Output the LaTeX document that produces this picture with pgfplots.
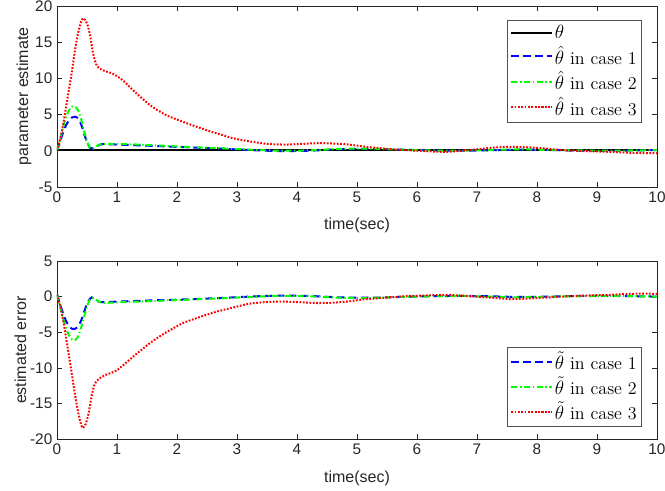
\documentclass[border=0pt]{standalone}
\usepackage{pgfplots}
\pgfplotsset{compat=1.18}
\usepackage{fontspec}
\newfontfamily\arial{Liberation Sans}
\definecolor{axgray}{RGB}{38,38,38}
\begin{document}
\begin{tikzpicture}
\path[use as bounding box] (-42.75pt,-38.6pt) rectangle (456pt,329.6pt);
\pgfplotsset{
  mat/.style={
    scale only axis, width=450pt,
    xmin=0, xmax=10, xtick={0,1,...,10},
    axis line style={axgray, line width=0.5pt},
    tick style={axgray, line width=0.5pt},
    major tick length=4pt,
    tick align=inside,
    ticklabel style={font=\arial\fontsize{11.5}{13}\selectfont, text=axgray},
    /pgf/number format/assume math mode=true,
    label style={font=\arial\fontsize{12}{14}\selectfont, text=axgray},
    xlabel={time(sec)},
    xlabel style={yshift=-5pt},
    ylabel style={yshift=-4pt},
    legend style={draw=axgray!80, line width=0.5pt, font=\fontsize{13.5}{15}\selectfont,
      legend cell align=left, row sep=1.5pt, inner xsep=2.5pt, inner ysep=2.5pt,
      nodes={inner sep=1.2pt}},
    legend image post style={line width=1.5pt},
    legend image code/.code={\draw plot coordinates {(0cm,0cm) (1.08cm,0cm)};},
    every axis plot/.append style={line width=1.5pt, smooth, tension=0.4},
  },
  c1/.style={blue, dash pattern=on 5.5pt off 3.5pt},
  c2/.style={green, dash pattern=on 4.5pt off 2pt on 1pt off 2pt},
  c3/.style={red, dash pattern=on 1.3pt off 1.2pt},
}
% ---------------- top axis ----------------
\begin{axis}[mat, at={(0pt,189.4pt)}, anchor=south west, height=135.75pt,
  ymin=-5, ymax=20, ytick={-5,0,5,10,15,20},
  ylabel={parameter estimate},
  legend style={at={(rel axis cs:1,1)}, anchor=north east, xshift=-11.25pt, yshift=-10.5pt}]
\addplot[black] coordinates {(0,0.1) (10,0.1)};
\addlegendentry{$\theta$}
\addplot[c1] coordinates {(0,0) (0.05,1.2) (0.1,2.5) (0.15,3.5) (0.2,4.2) (0.25,4.6) (0.3,4.7) (0.35,4.5) (0.4,3.7) (0.45,2.4) (0.5,1.2) (0.55,0.4) (0.6,0.3) (0.68,0.7) (0.75,0.9) (0.85,0.9) (1.0,0.85) (1.5,0.7) (2.1,0.5) (2.7,0.3) (3.2,0.1) (3.7,-0.05) (4.2,0.0) (4.7,0.2) (5.2,0.25) (5.7,0.15) (6.2,0.05) (6.7,0) (7.2,0.05) (7.7,0.15) (8.2,0.1) (8.7,0) (9.2,0) (9.7,0.05) (10,0.1)};
\addlegendentry{$\hat\theta$ in case 1}
\addplot[c2] coordinates {(0,0) (0.05,1.5) (0.1,3.2) (0.15,4.6) (0.2,5.6) (0.25,6.1) (0.3,6.1) (0.35,5.6) (0.4,4.4) (0.45,2.8) (0.5,1.3) (0.55,0.4) (0.6,0.3) (0.68,0.75) (0.75,0.95) (0.9,0.95) (1.0,0.95) (1.5,0.8) (2.1,0.55) (2.7,0.35) (3.2,0.15) (3.7,0) (4.2,0.05) (4.7,0.25) (5.2,0.3) (5.7,0.15) (6.2,0.05) (6.7,0) (7.2,0.1) (7.7,0.2) (8.2,0.1) (8.7,0.05) (9.2,0) (9.7,0.05) (10,0.1)};
\addlegendentry{$\hat\theta$ in case 2}
\addplot[c3] coordinates {(0,0) (0.05,1.5) (0.1,3.5) (0.15,6) (0.2,8.5) (0.25,11) (0.3,13.9) (0.35,16.2) (0.4,17.8) (0.44,18.3) (0.5,17.6) (0.55,16.0) (0.6,13.5) (0.65,12.0) (0.7,11.4) (0.8,11.0) (0.94,10.6) (1.1,9.7) (1.3,8.1) (1.55,6.3) (1.8,5.0) (2.0,4.3) (2.4,3.1) (2.9,1.8) (3.2,1.3) (3.5,0.95) (3.8,0.85) (4.1,0.95) (4.4,1.05) (4.8,0.9) (5.2,0.5) (5.6,0.2) (6.0,0.0) (6.5,-0.15) (7.0,0.2) (7.3,0.45) (7.6,0.55) (8.0,0.4) (8.4,0.1) (8.8,-0.05) (9.2,-0.15) (9.6,-0.3) (10,-0.35)};
\addlegendentry{$\hat\theta$ in case 3}
\end{axis}
% ---------------- bottom axis ----------------
\begin{axis}[mat, at={(0pt,0pt)}, anchor=south west, height=133.9pt,
  ymin=-20, ymax=5, ytick={-20,-15,-10,-5,0,5},
  ylabel={estimated error},
  legend style={at={(rel axis cs:1,0)}, anchor=south east, xshift=-11.25pt, yshift=9.4pt}]
\addplot[c1] coordinates {(0,0.3) (0.05,-1) (0.1,-2.3) (0.15,-3.4) (0.2,-4.1) (0.25,-4.5) (0.3,-4.5) (0.35,-4.2) (0.4,-3.4) (0.45,-2.2) (0.5,-1.0) (0.55,-0.3) (0.58,-0.1) (0.65,-0.5) (0.72,-0.75) (0.85,-0.75) (1.0,-0.7) (1.5,-0.55) (2.1,-0.4) (2.7,-0.2) (3.2,0) (3.7,0.15) (4.2,0.1) (4.7,-0.1) (5.2,-0.15) (5.7,-0.05) (6.2,0.05) (6.7,0.1) (7.2,0.05) (7.7,-0.05) (8.2,0) (8.7,0.1) (9.2,0.1) (9.7,0.05) (10,0)};
\addlegendentry{$\tilde\theta$ in case 1}
\addplot[c2] coordinates {(0,0.3) (0.05,-1.3) (0.1,-3) (0.15,-4.4) (0.2,-5.4) (0.25,-6.0) (0.3,-6.1) (0.35,-5.6) (0.4,-4.4) (0.45,-2.9) (0.5,-1.4) (0.55,-0.4) (0.6,-0.2) (0.68,-0.6) (0.75,-0.85) (0.9,-0.85) (1.0,-0.8) (1.5,-0.65) (2.1,-0.45) (2.7,-0.25) (3.2,-0.05) (3.7,0.1) (4.2,0.05) (4.7,-0.15) (5.2,-0.2) (5.7,-0.05) (6.2,0.05) (6.7,0.1) (7.2,0) (7.7,-0.1) (8.2,0) (8.7,0.05) (9.2,0.1) (9.7,0.05) (10,0)};
\addlegendentry{$\tilde\theta$ in case 2}
\addplot[c3] coordinates {(0,0.3) (0.05,-1.2) (0.1,-3.2) (0.15,-5.7) (0.2,-8.3) (0.25,-11) (0.3,-13.7) (0.35,-16.1) (0.4,-17.9) (0.43,-18.4) (0.48,-17.8) (0.53,-16.2) (0.58,-13.8) (0.63,-12.2) (0.7,-11.5) (0.8,-11.0) (1.0,-10.3) (1.27,-8.4) (1.55,-6.5) (1.8,-5.1) (2.1,-3.7) (2.4,-2.8) (2.66,-2.1) (2.9,-1.6) (3.2,-1.0) (3.5,-0.75) (3.77,-0.7) (4.1,-0.8) (4.33,-0.9) (4.6,-0.85) (4.83,-0.7) (5.1,-0.4) (5.7,0) (6.1,0.15) (6.5,0.25) (6.9,0.05) (7.3,-0.2) (7.6,-0.35) (8.0,-0.2) (8.4,0) (8.8,0.15) (9.2,0.25) (9.6,0.4) (10,0.4)};
\addlegendentry{$\tilde\theta$ in case 3}
\end{axis}
\end{tikzpicture}
\end{document}
